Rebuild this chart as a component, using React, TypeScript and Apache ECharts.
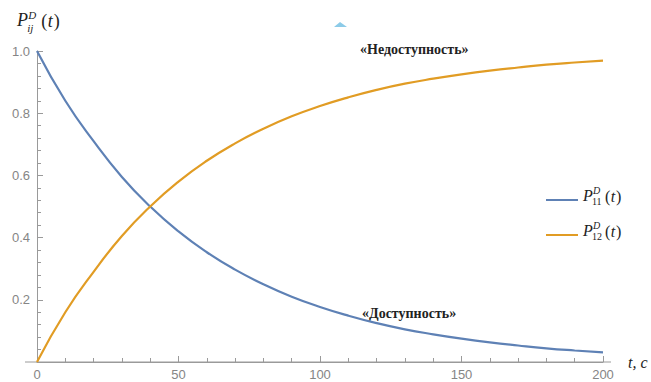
import React, { useEffect, useRef } from "react";
import * as echarts from "echarts";

const tValues = [0, 10, 20, 30, 40, 50, 60, 70, 80, 90, 100, 110, 120, 130, 140, 150, 160, 170, 180, 190, 200];
const p11Values = [1.0, 0.84, 0.71, 0.595, 0.5, 0.42, 0.353, 0.297, 0.25, 0.21, 0.177, 0.149, 0.125, 0.105, 0.089, 0.075, 0.063, 0.053, 0.044, 0.037, 0.031];
const p12Values = [0.0, 0.16, 0.29, 0.405, 0.5, 0.58, 0.647, 0.703, 0.75, 0.79, 0.823, 0.851, 0.875, 0.895, 0.911, 0.925, 0.937, 0.947, 0.956, 0.963, 0.969];
const xTicks = [0, 50, 100, 150, 200];
const yTicks = [0.2, 0.4, 0.6, 0.8, 1.0];
const seriesNames = ["P11", "P12"];
const annotations = ["«Недоступность»", "«Доступность»"];

const BLUE = "#5E81B5";
const ORANGE = "#E19C24";
const AXIS = "#9a9a9a";
const LABEL = "#858585";
const SERIF = "'Liberation Serif', 'DejaVu Serif', serif";
const SANS = "'Liberation Sans', Arial, sans-serif";

function mathLabel(x: number, y: number, sub: string, size: number, subItalic: boolean) {
  // P with stacked superscript D and subscript, then (t); y = baseline
  const small = Math.round(size * 0.6);
  const pW = size * 0.62;
  const subW = sub.length * small * 0.5 + 1;
  const ink = "#222";
  return {
    type: "group",
    x,
    y,
    children: [
      { type: "text", x: 0, y: 0, style: { text: "P", font: `italic ${size}px ${SERIF}`, fill: ink, textVerticalAlign: "bottom" } },
      { type: "text", x: pW, y: -size * 0.5, style: { text: "D", font: `italic ${small}px ${SERIF}`, fill: ink, textVerticalAlign: "bottom" } },
      { type: "text", x: pW - 1, y: size * 0.24, style: { text: sub, font: `${subItalic ? "italic " : ""}${small}px ${SERIF}`, fill: ink, textVerticalAlign: "bottom" } },
      { type: "text", x: pW + subW + 1, y: 1, style: { text: "(", font: `${size}px ${SERIF}`, fill: ink, textVerticalAlign: "bottom" } },
      { type: "text", x: pW + subW + 1 + size * 0.36, y: 1, style: { text: "t", font: `italic ${size}px ${SERIF}`, fill: ink, textVerticalAlign: "bottom" } },
      { type: "text", x: pW + subW + 1 + size * 0.7, y: 1, style: { text: ")", font: `${size}px ${SERIF}`, fill: ink, textVerticalAlign: "bottom" } },
    ],
  };
}

export default function App() {
  const ref = useRef<HTMLDivElement>(null);
  useEffect(() => {
    if (!ref.current) return;
    const chart = echarts.init(ref.current, undefined, { renderer: "svg" });
    const d11 = tValues.map((t, i) => [t, p11Values[i]]);
    const d12 = tValues.map((t, i) => [t, p12Values[i]]);
    chart.setOption({
      animation: false,
      backgroundColor: "#fff",
      grid: { left: 37, right: 48, top: 51, bottom: 20, containLabel: false, outerBoundsMode: "none" },
      xAxis: {
        type: "value",
        min: 0,
        max: 200,
        interval: 50,
        axisLine: { show: true, lineStyle: { color: AXIS, width: 1 } },
        axisTick: { show: true, inside: true, length: 6, lineStyle: { color: AXIS } },
        minorTick: { show: true, splitNumber: 5, length: 4, lineStyle: { color: AXIS } },
        splitLine: { show: false },
        axisLabel: {
          color: LABEL,
          fontFamily: SANS,
          fontSize: 13,
          margin: 6,
          formatter: (v: number) => (xTicks.includes(v) ? String(v) : ""),
        },
      },
      yAxis: {
        type: "value",
        min: 0,
        max: 1,
        interval: 0.2,
        axisLine: { show: true, onZero: true, lineStyle: { color: AXIS, width: 1 } },
        axisTick: { show: true, inside: true, length: 6, lineStyle: { color: AXIS } },
        minorTick: { show: true, splitNumber: 5, length: 4, lineStyle: { color: AXIS } },
        splitLine: { show: false },
        axisLabel: {
          color: LABEL,
          fontFamily: SANS,
          fontSize: 13,
          margin: 7,
          formatter: (v: number) => {
            const m = yTicks.find((t) => Math.abs(t - v) < 1e-6);
            return m === undefined ? "" : m.toFixed(1);
          },
        },
      },
      legend: {
        orient: "vertical",
        left: 541,
        top: 194,
        icon: "rect",
        itemWidth: 32,
        itemHeight: 2,
        itemGap: 33,
        data: seriesNames,
        formatter: () => "",
        textStyle: { fontSize: 1, lineHeight: 2 },
      },
      series: [
        {
          name: seriesNames[0],
          type: "line",
          data: d11,
          smooth: true,
          symbol: "none",
          lineStyle: { color: BLUE, width: 2.2 },
          itemStyle: { color: BLUE },
        },
        {
          name: seriesNames[1],
          type: "line",
          data: d12,
          smooth: true,
          symbol: "none",
          lineStyle: { color: ORANGE, width: 2.2 },
          itemStyle: { color: ORANGE },
        },
      ],
      graphic: [
        { type: "line", z: -1, shape: { x1: 25, y1: 362, x2: 611, y2: 362 }, style: { stroke: AXIS, lineWidth: 1 } },
        mathLabel(17, 29, "ij", 18, true),
        mathLabel(583, 203, "11", 16, false),
        mathLabel(583, 238, "12", 16, false),
        { type: "text", x: 628, y: 362, style: { text: "t, c", font: `italic 16px ${SERIF}`, fill: "#222", textVerticalAlign: "middle" } },
        { type: "text", x: 360, y: 49, style: { text: annotations[0], font: `bold 14px ${SERIF}`, fill: "#222", textVerticalAlign: "middle" } },
        { type: "text", x: 362, y: 313, style: { text: annotations[1], font: `bold 14px ${SERIF}`, fill: "#222", textVerticalAlign: "middle" } },
        { type: "polygon", shape: { points: [[334, 27], [340, 22], [347, 27]] }, style: { fill: "#8ccbe8" } },
      ],
    });
    return () => chart.dispose();
  }, []);
  return <div ref={ref} style={{ width: 651, height: 382, position: "absolute", left: 0, top: 0 }} />;
}
